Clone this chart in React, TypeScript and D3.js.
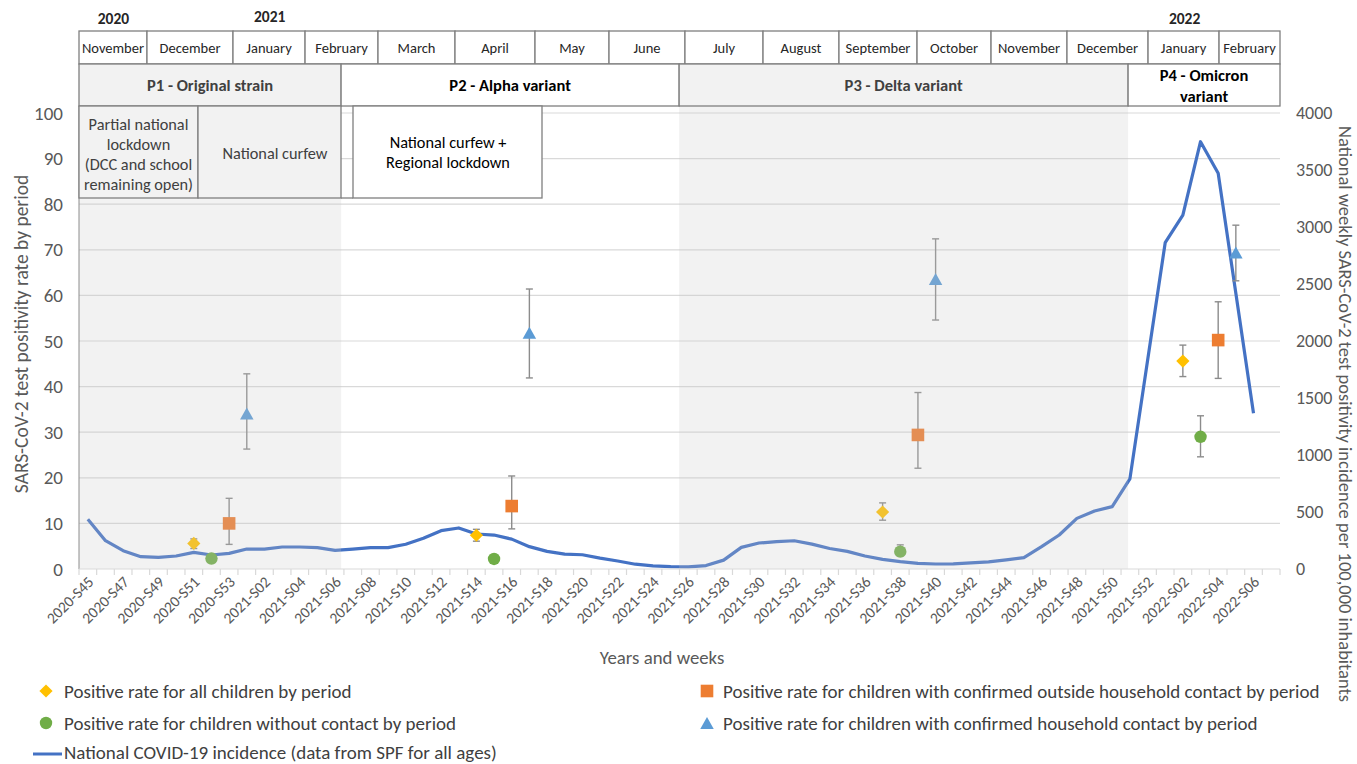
import React from "react";
import * as d3 from "d3";

// ---------- DATA ----------
const categories: string[] = [
  "2020-S45", "2020-S46", "2020-S47", "2020-S48", "2020-S49", "2020-S50", "2020-S51", "2020-S52", "2020-S53",
  "2021-S01", "2021-S02", "2021-S03", "2021-S04", "2021-S05", "2021-S06", "2021-S07", "2021-S08", "2021-S09", "2021-S10",
  "2021-S11", "2021-S12", "2021-S13", "2021-S14", "2021-S15", "2021-S16", "2021-S17", "2021-S18", "2021-S19", "2021-S20",
  "2021-S21", "2021-S22", "2021-S23", "2021-S24", "2021-S25", "2021-S26", "2021-S27", "2021-S28", "2021-S29", "2021-S30",
  "2021-S31", "2021-S32", "2021-S33", "2021-S34", "2021-S35", "2021-S36", "2021-S37", "2021-S38", "2021-S39", "2021-S40",
  "2021-S41", "2021-S42", "2021-S43", "2021-S44", "2021-S45", "2021-S46", "2021-S47", "2021-S48", "2021-S49", "2021-S50",
  "2021-S51", "2021-S52",
  "2022-S01", "2022-S02", "2022-S03", "2022-S04", "2022-S05", "2022-S06", "2022-S07",
];

// National weekly incidence per 100,000 (right axis), 2020-S45 .. 2022-S06
const incidence: number[] = [
  436, 248, 161, 108, 102, 114, 146, 123, 137,
  175, 175, 193, 193, 187, 164, 175, 187, 187, 217,
  269, 336, 360, 307, 298, 262, 196, 155, 130, 125,
  95, 70, 42, 28, 20, 18, 30, 78, 190, 228,
  240, 248, 218, 180, 155, 114, 85, 64, 50, 44,
  45, 53, 62, 80, 100, 196, 298, 444, 509, 547,
  790, 1826,
  2862, 3105, 3748, 3471, 2418, 1366,
];

const allChildrenWeeks = ["2020-S51", "2021-S14", "2021-S37", "2022-S02"];
const allChildren = [5.6, 7.4, 12.5, 45.6];
const allChildrenLo = [4.5, 6.1, 10.7, 42.2];
const allChildrenHi = [6.6, 8.7, 14.5, 49.1];

const noContactWeeks = ["2020-S52", "2021-S15", "2021-S38", "2022-S03"];
const noContact = [2.3, 2.2, 3.8, 29.0];
const noContactLo = [1.8, 1.8, 2.9, 24.6];
const noContactHi = [2.8, 2.7, 5.3, 33.6];

const outsideWeeks = ["2020-S53", "2021-S16", "2021-S39", "2022-S04"];
const outside = [10.0, 13.8, 29.4, 50.2];
const outsideLo = [5.4, 8.8, 22.1, 41.8];
const outsideHi = [15.5, 20.4, 38.7, 58.6];

const householdWeeks = ["2021-S01", "2021-S17", "2021-S40", "2022-S05"];
const household = [34.1, 51.8, 63.6, 69.4];
const householdLo = [26.3, 41.9, 54.6, 63.2];
const householdHi = [42.8, 61.4, 72.4, 75.4];

const leftTicks = [0, 10, 20, 30, 40, 50, 60, 70, 80, 90, 100];
const rightTicks = [0, 500, 1000, 1500, 2000, 2500, 3000, 3500, 4000];

const months = [
  "November", "December", "January", "February", "March", "April", "May", "June",
  "July", "August", "September", "October", "November", "December", "January", "February",
];
// month starts in week units (from 2020-S45)
const monthStarts = [0, 3.85, 8.72, 12.8, 16.93, 21.29, 25.82, 30.01, 34.31, 38.73, 43.03, 47.45, 51.64, 55.94, 60.53, 64.55, 68];

const years = ["2020", "2021", "2022"];
const yearAt = [1.95, 10.8, 62.6];

const periods = ["P1 - Original strain", "P2 - Alpha variant", "P3 - Delta variant", "P4 - Omicron variant"];
const periodBounds = [0, 14.84, 33.98, 59.4, 68];
const periodShaded = [true, false, true, false];

// ---------- COMPONENT ----------
const FONT = "Carlito, Calibri, Lato, 'Open Sans', sans-serif";
const BORDER = "#7f7f7f";

export default function App() {
  const W = 1357, H = 764;
  const L = 79, R = 1280, T = 113, B = 569;

  const x = d3.scaleBand<string>().domain(categories).range([L, R]).paddingInner(0).paddingOuter(0);
  const xu = d3.scaleLinear().domain([0, categories.length]).range([L, R]);
  const cx = (c: string) => (x(c) ?? 0) + x.bandwidth() / 2;
  const yL = d3.scaleLinear().domain([0, 100]).range([B, T]);
  const yR = d3.scaleLinear().domain([0, 4000]).range([B, T]);

  const linePath = d3
    .line<number>()
    .x((_, i) => cx(categories[i]))
    .y((d) => yR(d))(incidence) || "";

  const diamond = (px: number, py: number, s: number) =>
    `M${px},${py - s}L${px + s},${py}L${px},${py + s}L${px - s},${py}Z`;
  const triangle = (px: number, py: number, w: number, h: number) =>
    `M${px},${py - h / 2}L${px + w / 2},${py + h / 2}L${px - w / 2},${py + h / 2}Z`;

  const series = [
    { weeks: allChildrenWeeks, v: allChildren, lo: allChildrenLo, hi: allChildrenHi, kind: "diamond", color: "#ffc000" },
    { weeks: noContactWeeks, v: noContact, lo: noContactLo, hi: noContactHi, kind: "circle", color: "#70ad47" },
    { weeks: outsideWeeks, v: outside, lo: outsideLo, hi: outsideHi, kind: "square", color: "#ed7d31" },
    { weeks: householdWeeks, v: household, lo: householdLo, hi: householdHi, kind: "triangle", color: "#5b9bd5" },
  ];

  const marker = (kind: string, px: number, py: number, color: string, key?: string) => {
    if (kind === "diamond") return <path key={key} d={diamond(px, py, 6.6)} fill={color} />;
    if (kind === "circle") return <circle key={key} cx={px} cy={py} r={6.2} fill={color} />;
    if (kind === "square") return <rect key={key} x={px - 6.3} y={py - 6.3} width={12.6} height={12.6} fill={color} />;
    return <path key={key} d={triangle(px, py, 13.5, 12)} fill={color} />;
  };

  const tickBounds = d3.range(categories.length + 1);
  const legendFs = 19;

  return (
    <svg
      width={W}
      height={H}
      viewBox={`0 0 ${W} ${H}`}
      style={{ position: "absolute", left: 0, top: 0, display: "block", background: "#fff" }}
      fontFamily={FONT}
    >
      <rect x={0} y={0} width={W} height={H} fill="#fff" />

      {/* gridlines */}
      {leftTicks.filter((t) => t > 0).map((t) => (
        <line key={"g" + t} x1={L} x2={R} y1={yL(t)} y2={yL(t)} stroke="#d9d9d9" strokeWidth={1.2} />
      ))}

      {/* incidence line */}
      <path d={linePath} fill="none" stroke="#4472c4" strokeWidth={3.2} strokeLinejoin="round" />

      {/* error bars */}
      {series.map((s, si) =>
        s.weeks.map((w, i) => {
          const px = cx(w);
          return (
            <g key={`e${si}-${i}`} stroke="#8c8c8c" strokeWidth={1.4}>
              <line x1={px} x2={px} y1={yL(s.hi[i])} y2={yL(s.lo[i])} />
              <line x1={px - 3.5} x2={px + 3.5} y1={yL(s.hi[i])} y2={yL(s.hi[i])} />
              <line x1={px - 3.5} x2={px + 3.5} y1={yL(s.lo[i])} y2={yL(s.lo[i])} />
            </g>
          );
        })
      )}
      {/* markers */}
      {series.map((s, si) => s.weeks.map((w, i) => marker(s.kind, cx(w), yL(s.v[i]), s.color, `m${si}-${i}`)))}

      {/* period shading overlay */}
      {periods.map((p, i) =>
        periodShaded[i] ? (
          <rect
            key={"sh" + i}
            x={xu(periodBounds[i])}
            y={106}
            width={xu(periodBounds[i + 1]) - xu(periodBounds[i])}
            height={B - 106}
            fill="rgb(200,200,200)"
            fillOpacity={0.236}
          />
        ) : null
      )}

      {/* axes */}
      <line x1={L} x2={L} y1={106} y2={B} stroke="#8c8c8c" strokeWidth={1} />
      <line x1={L} x2={R} y1={B} y2={B} stroke="#d9d9d9" strokeWidth={1.2} />
      {tickBounds.map((t) => (
        <line key={"t" + t} x1={xu(t)} x2={xu(t)} y1={B} y2={B + 6} stroke="#d9d9d9" strokeWidth={1.2} />
      ))}
      {leftTicks.map((t) => (
        <text key={"lt" + t} x={63} y={yL(t)} dy="0.35em" textAnchor="end" fontSize={19} fill="#595959">
          {t}
        </text>
      ))}
      {rightTicks.map((t) => (
        <text key={"rt" + t} x={1296} y={yR(t)} dy="0.35em" textAnchor="start" fontSize={18} fill="#595959">
          {t}
        </text>
      ))}
      {categories.map((c, i) =>
        i % 2 === 0 ? (
          <text
            key={"xl" + c}
            transform={`translate(${cx(c) + 3},${B + 10}) rotate(-45)`}
            textAnchor="end"
            dy="0.35em"
            fontSize={15.5}
            fill="#595959"
          >
            {c}
          </text>
        ) : null
      )}

      {/* axis titles */}
      <text transform={`translate(21,${(T + B) / 2 - 7}) rotate(-90)`} textAnchor="middle" dy="0.35em" fontSize={19.5} fill="#595959">
        SARS-CoV-2 test positivity rate by period
      </text>
      <text transform={`translate(1345,414) rotate(90)`} textAnchor="middle" dy="0.35em" fontSize={18.5} fill="#595959">
        National weekly SARS-CoV-2 test positivity incidence per 100,000 inhabitants
      </text>
      <text x={662} y={657} textAnchor="middle" dy="0.35em" fontSize={18.8} fill="#595959">
        Years and weeks
      </text>

      {/* header: years */}
      {years.map((yv, i) => (
        <text key={"y" + yv} x={xu(yearAt[i])} y={i === 1 ? 17 : 19} textAnchor="middle" dy="0.35em" fontSize={15.5} fontWeight={700} fill="#262626">
          {yv}
        </text>
      ))}
      {/* header: months */}
      {months.map((m, i) => {
        const x0 = xu(monthStarts[i]);
        const x1 = xu(monthStarts[i + 1]);
        return (
          <g key={"mo" + i}>
            <rect x={x0} y={31} width={x1 - x0} height={33} fill="#fff" stroke={BORDER} strokeWidth={1.3} />
            <text x={(x0 + x1) / 2} y={48} textAnchor="middle" dy="0.35em" fontSize={14.5} fill="#262626">
              {m}
            </text>
          </g>
        );
      })}
      {/* header: periods */}
      {periods.map((p, i) => {
        const x0 = xu(periodBounds[i]);
        const x1 = xu(periodBounds[i + 1]);
        const color = periodShaded[i] ? "#404040" : "#000";
        return (
          <g key={"p" + i}>
            <rect x={x0} y={64} width={x1 - x0} height={42} fill={periodShaded[i] ? "#f2f2f2" : "#fff"} stroke={BORDER} strokeWidth={1.3} />
            {i === 3 ? (
              <text x={(x0 + x1) / 2} y={75} textAnchor="middle" dy="0.35em" fontSize={16.5} fontWeight={700} fill={color}>
                <tspan x={(x0 + x1) / 2}>P4 - Omicron</tspan>
                <tspan x={(x0 + x1) / 2} dy={21}>variant</tspan>
              </text>
            ) : (
              <text x={(x0 + x1) / 2} y={85} textAnchor="middle" dy="0.35em" fontSize={16.5} fontWeight={700} fill={color}>
                {p}
              </text>
            )}
          </g>
        );
      })}

      {/* measure boxes */}
      <rect x={79} y={106} width={119} height={92} fill="#f2f2f2" stroke={BORDER} strokeWidth={1.3} />
      <text x={138.5} y={124} textAnchor="middle" dy="0.35em" fontSize={16.3} fill="#404040">
        <tspan x={138.5}>Partial national</tspan>
        <tspan x={138.5} dy={20}>lockdown</tspan>
        <tspan x={138.5} dy={20}>(DCC and school</tspan>
        <tspan x={138.5} dy={20}>remaining open)</tspan>
      </text>
      <rect x={198} y={106} width={143} height={92} fill="#f2f2f2" stroke={BORDER} strokeWidth={1.3} />
      <line x1={341} x2={353} y1={198} y2={198} stroke={BORDER} strokeWidth={1.3} />
      <text x={275} y={153} textAnchor="middle" dy="0.35em" fontSize={16.3} fill="#404040">
        National curfew
      </text>
      <rect x={353} y={106} width={189} height={92} fill="#fff" stroke={BORDER} strokeWidth={1.3} />
      <text x={448} y={142} textAnchor="middle" dy="0.35em" fontSize={16.3} fill="#000">
        <tspan x={448}>National curfew +</tspan>
        <tspan x={448} dy={20}>Regional lockdown</tspan>
      </text>

      {/* legend */}
      {marker("diamond", 46, 691, "#ffc000")}
      <text x={64} y={691} dy="0.35em" fontSize={legendFs} fill="#404040">Positive rate for all children by period</text>
      {marker("circle", 46, 723, "#70ad47")}
      <text x={64} y={723} dy="0.35em" fontSize={legendFs} fill="#404040">Positive rate for children without contact by period</text>
      <line x1={33} x2={62} y1={754} y2={754} stroke="#4472c4" strokeWidth={3} />
      <text x={64} y={752.5} dy="0.35em" fontSize={legendFs} fill="#404040">National COVID-19 incidence (data from SPF for all ages)</text>
      {marker("square", 707, 691, "#ed7d31")}
      <text x={723} y={691} dy="0.35em" fontSize={legendFs} fill="#404040">Positive rate for children with confirmed outside household contact by period</text>
      {marker("triangle", 707, 723, "#5b9bd5")}
      <text x={723} y={723} dy="0.35em" fontSize={legendFs} fill="#404040">Positive rate for children with confirmed household contact by period</text>
    </svg>
  );
}
